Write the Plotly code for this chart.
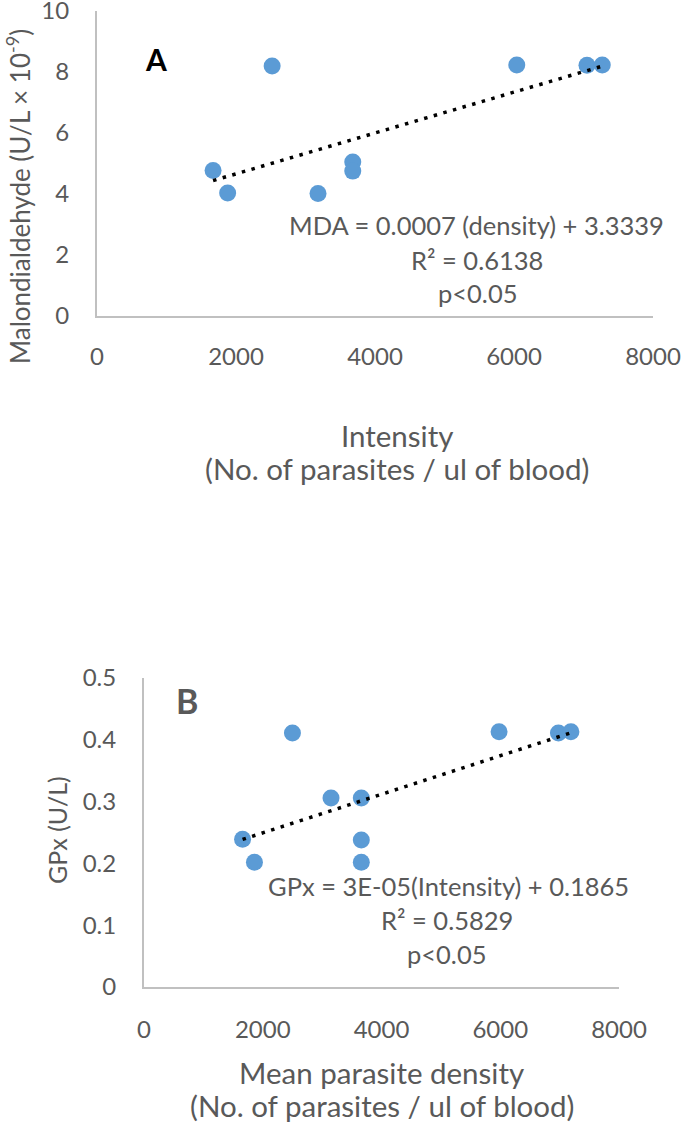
import plotly.graph_objects as go
import numpy as np

# ---- data ----
density_A = [1670, 1880, 2520, 3180, 3680, 3680, 6040, 7050, 7270]
mda_A = [4.77, 4.03, 8.20, 4.02, 5.05, 4.75, 8.23, 8.22, 8.23]
trend_A = [0.00067, 3.32]  # slope, intercept as drawn

density_B = [1660, 1860, 2500, 3150, 3660, 3660, 3660, 5980, 6980, 7190]
gpx_B = [0.239, 0.202, 0.411, 0.306, 0.306, 0.238, 0.202, 0.413, 0.411, 0.413]
trend_B = [3.12e-05, 0.187]

x_ticks = [0, 2000, 4000, 6000, 8000]
y_ticks_A = [0, 2, 4, 6, 8, 10]
y_ticks_B = [0, 0.1, 0.2, 0.3, 0.4, 0.5]

W, H = 685, 1124
def px(x):
    return x / W
def py(y):
    return 1 - y / H

GREY = "#595959"
BLUE = "#5b9bd5"
AX = "#c0c0c0"
FONT = "Lato"

fig = go.Figure()

fig.add_trace(go.Scatter(x=density_A, y=mda_A, mode="markers",
                         marker=dict(color=BLUE, size=17), xaxis="x", yaxis="y",
                         showlegend=False, hoverinfo="skip"))
xa = np.array([min(density_A), max(density_A)])
fig.add_trace(go.Scatter(x=xa, y=trend_A[0] * xa + trend_A[1], mode="lines",
                         line=dict(color="black", width=3.5, dash="3.5px,6.5px"),
                         xaxis="x", yaxis="y", showlegend=False, hoverinfo="skip"))

fig.add_trace(go.Scatter(x=density_B, y=gpx_B, mode="markers",
                         marker=dict(color=BLUE, size=17), xaxis="x2", yaxis="y2",
                         showlegend=False, hoverinfo="skip"))
xb = np.array([min(density_B), max(density_B)])
fig.add_trace(go.Scatter(x=xb, y=trend_B[0] * xb + trend_B[1], mode="lines",
                         line=dict(color="black", width=3.5, dash="3.5px,6.5px"),
                         xaxis="x2", yaxis="y2", showlegend=False, hoverinfo="skip"))

axcommon = dict(showgrid=False, zeroline=False, showline=True, linecolor=AX,
                linewidth=2, ticks="", automargin=False, ticklabeloverflow="allow",
                tickfont=dict(family=FONT, size=24, color=GREY),
                fixedrange=True)

fig.update_layout(
    template="none",
    width=W, height=H, margin=dict(l=0, r=0, t=0, b=0, autoexpand=False),
    paper_bgcolor="white", plot_bgcolor="white",
    xaxis=dict(domain=[px(97), px(653)], range=[0, 8000], tickvals=x_ticks,
               anchor="y", ticklabelstandoff=18, **axcommon),
    yaxis=dict(domain=[py(316), py(11)], range=[0, 10], tickvals=y_ticks_A,
               anchor="x", ticklabelstandoff=21, **axcommon),
    xaxis2=dict(domain=[px(144), px(619)], range=[0, 8000], tickvals=x_ticks,
                anchor="y2", ticklabelstandoff=20, **axcommon),
    yaxis2=dict(domain=[py(987), py(678)], range=[0, 0.5], tickvals=y_ticks_B,
                tickformat="~g", anchor="x2", ticklabelstandoff=21, **axcommon),
)

def ann(text, x, y, size, color=GREY, bold=False, angle=0):
    fig.add_annotation(text=("<b>%s</b>" % text) if bold else text,
                       x=px(x), y=py(y), xref="paper", yref="paper",
                       showarrow=False, xanchor="center", yanchor="middle",
                       textangle=angle,
                       font=dict(family=FONT, size=size, color=color))

# Panel A
ann("A", 156, 59, 30, color="black", bold=True)
ann("MDA = 0.0007 (density) + 3.3339", 476, 225, 25.5)
ann("R² = 0.6138", 477, 260, 25.5)
ann("p<0.05", 477, 293, 25.5)
ann("Malondialdehyde (U/L × 10<sup>-9</sup>)", 18, 197, 26, angle=-90)
ann("Intensity", 397, 435, 29.5)
ann("(No. of parasites / ul of blood)", 397, 468, 29.5)

# Panel B
ann("B", 187, 700, 34, bold=True)
ann("GPx = 3E-05(Intensity) + 0.1865", 448, 886, 25.5)
ann("R² = 0.5829", 447, 920, 25.5)
ann("p<0.05", 446, 954, 25.5)
ann("GPx (U/L)", 57, 830, 25, angle=-90)
ann("Mean parasite density", 381, 1072, 29.5)
ann("(No. of parasites / ul of blood)", 382, 1105, 29.5)

fig.write_html("out.html", config={"displayModeBar": False},
               post_script="document.body.style.margin='0';"
                           "document.body.style.overflow='hidden';")
